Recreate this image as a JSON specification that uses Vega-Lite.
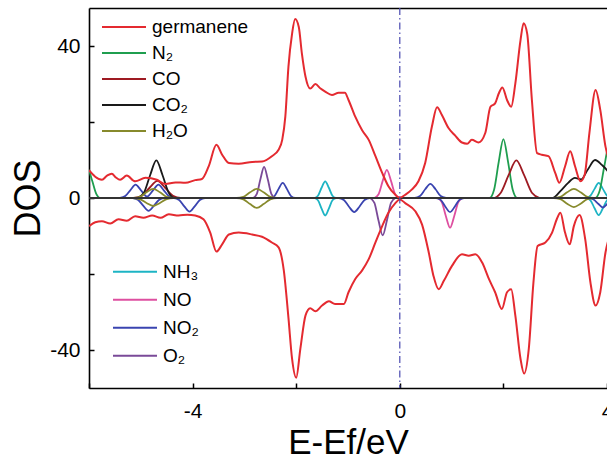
{
  "$schema": "https://vega.github.io/schema/vega-lite/v6.json",
  "width": 518,
  "height": 380,
  "autosize": {"type": "none"},
  "padding": {"left": 89, "top": 8, "right": 0, "bottom": 78},
  "background": "white",
  "config": {
    "view": {"stroke": null},
    "font": "Liberation Sans",
    "axis": {
      "labelFont": "Liberation Sans",
      "titleFont": "Liberation Sans",
      "titleFontWeight": "normal",
      "labelColor": "black",
      "titleColor": "black",
      "domainColor": "black",
      "tickColor": "black",
      "domainWidth": 1.6,
      "tickWidth": 1.5,
      "grid": false
    }
  },
  "resolve": {"axis": {"x": "independent"}},
  "datasets": {
    "ge": [
      {"E":-6.0,"D":7.3,"g":"germanene","s":"u"},{"E":-5.88,"D":5.6,"g":"germanene","s":"u"},{"E":-5.75,"D":4.8,"g":"germanene","s":"u"},{"E":-5.65,"D":5.9,"g":"germanene","s":"u"},{"E":-5.56,"D":6.4,"g":"germanene","s":"u"},{"E":-5.48,"D":5.4,"g":"germanene","s":"u"},{"E":-5.40,"D":4.8,"g":"germanene","s":"u"},{"E":-5.27,"D":5.9,"g":"germanene","s":"u"},{"E":-5.11,"D":4.4,"g":"germanene","s":"u"},{"E":-4.91,"D":5.3,"g":"germanene","s":"u"},{"E":-4.69,"D":4.8,"g":"germanene","s":"u"},{"E":-4.53,"D":3.7,"g":"germanene","s":"u"},{"E":-4.33,"D":4.1,"g":"germanene","s":"u"},{"E":-4.14,"D":4.0,"g":"germanene","s":"u"},{"E":-3.95,"D":4.7,"g":"germanene","s":"u"},{"E":-3.82,"D":5.0,"g":"germanene","s":"u"},{"E":-3.69,"D":8.3,"g":"germanene","s":"u"},{"E":-3.54,"D":14.0,"g":"germanene","s":"u"},{"E":-3.43,"D":11.4,"g":"germanene","s":"u"},{"E":-3.30,"D":9.2,"g":"germanene","s":"u"},{"E":-3.11,"D":9.0,"g":"germanene","s":"u"},{"E":-2.85,"D":9.5,"g":"germanene","s":"u"},{"E":-2.66,"D":9.6,"g":"germanene","s":"u"},{"E":-2.47,"D":11.0,"g":"germanene","s":"u"},{"E":-2.34,"D":12.7,"g":"germanene","s":"u"},{"E":-2.27,"D":15.3,"g":"germanene","s":"u"},{"E":-2.21,"D":21.4,"g":"germanene","s":"u"},{"E":-2.15,"D":34.5,"g":"germanene","s":"u"},{"E":-2.08,"D":43.2,"g":"germanene","s":"u"},{"E":-2.02,"D":47.1,"g":"germanene","s":"u"},{"E":-1.95,"D":45.0,"g":"germanene","s":"u"},{"E":-1.89,"D":38.0,"g":"germanene","s":"u"},{"E":-1.82,"D":31.9,"g":"germanene","s":"u"},{"E":-1.73,"D":28.8,"g":"germanene","s":"u"},{"E":-1.63,"D":30.0,"g":"germanene","s":"u"},{"E":-1.53,"D":28.8,"g":"germanene","s":"u"},{"E":-1.44,"D":28.0,"g":"germanene","s":"u"},{"E":-1.31,"D":27.1,"g":"germanene","s":"u"},{"E":-1.18,"D":27.7,"g":"germanene","s":"u"},{"E":-1.06,"D":27.7,"g":"germanene","s":"u"},{"E":-0.99,"D":25.8,"g":"germanene","s":"u"},{"E":-0.86,"D":21.4,"g":"germanene","s":"u"},{"E":-0.73,"D":17.9,"g":"germanene","s":"u"},{"E":-0.60,"D":15.3,"g":"germanene","s":"u"},{"E":-0.47,"D":11.0,"g":"germanene","s":"u"},{"E":-0.34,"D":6.6,"g":"germanene","s":"u"},{"E":-0.22,"D":3.1,"g":"germanene","s":"u"},{"E":-0.09,"D":0.9,"g":"germanene","s":"u"},{"E":0.0,"D":0.1,"g":"germanene","s":"u"},{"E":0.11,"D":0.9,"g":"germanene","s":"u"},{"E":0.23,"D":2.2,"g":"germanene","s":"u"},{"E":0.36,"D":4.4,"g":"germanene","s":"u"},{"E":0.49,"D":9.2,"g":"germanene","s":"u"},{"E":0.62,"D":18.8,"g":"germanene","s":"u"},{"E":0.72,"D":23.9,"g":"germanene","s":"u"},{"E":0.81,"D":21.9,"g":"germanene","s":"u"},{"E":0.94,"D":18.4,"g":"germanene","s":"u"},{"E":1.07,"D":16.4,"g":"germanene","s":"u"},{"E":1.20,"D":14.6,"g":"germanene","s":"u"},{"E":1.30,"D":14.3,"g":"germanene","s":"u"},{"E":1.39,"D":15.3,"g":"germanene","s":"u"},{"E":1.52,"D":14.6,"g":"germanene","s":"u"},{"E":1.65,"D":17.1,"g":"germanene","s":"u"},{"E":1.75,"D":24.0,"g":"germanene","s":"u"},{"E":1.84,"D":24.9,"g":"germanene","s":"u"},{"E":1.91,"D":27.5,"g":"germanene","s":"u"},{"E":1.98,"D":29.1,"g":"germanene","s":"u"},{"E":2.07,"D":25.8,"g":"germanene","s":"u"},{"E":2.15,"D":24.0,"g":"germanene","s":"u"},{"E":2.23,"D":30.1,"g":"germanene","s":"u"},{"E":2.33,"D":41.5,"g":"germanene","s":"u"},{"E":2.39,"D":46.0,"g":"germanene","s":"u"},{"E":2.46,"D":43.2,"g":"germanene","s":"u"},{"E":2.55,"D":25.8,"g":"germanene","s":"u"},{"E":2.65,"D":11.8,"g":"germanene","s":"u"},{"E":2.74,"D":11.4,"g":"germanene","s":"u"},{"E":2.87,"D":11.0,"g":"germanene","s":"u"},{"E":3.00,"D":6.6,"g":"germanene","s":"u"},{"E":3.08,"D":4.0,"g":"germanene","s":"u"},{"E":3.19,"D":8.3,"g":"germanene","s":"u"},{"E":3.29,"D":12.3,"g":"germanene","s":"u"},{"E":3.38,"D":8.5,"g":"germanene","s":"u"},{"E":3.49,"D":4.4,"g":"germanene","s":"u"},{"E":3.57,"D":6.2,"g":"germanene","s":"u"},{"E":3.66,"D":17.1,"g":"germanene","s":"u"},{"E":3.78,"D":28.4,"g":"germanene","s":"u"},{"E":3.87,"D":23.2,"g":"germanene","s":"u"},{"E":3.97,"D":13.6,"g":"germanene","s":"u"},{"E":4.05,"D":9.5,"g":"germanene","s":"u"},
      {"E":-6.0,"D":-7.4,"g":"germanene","s":"d"},{"E":-5.88,"D":-6.4,"g":"germanene","s":"d"},{"E":-5.75,"D":-6.1,"g":"germanene","s":"d"},{"E":-5.59,"D":-6.7,"g":"germanene","s":"d"},{"E":-5.43,"D":-5.6,"g":"germanene","s":"d"},{"E":-5.27,"D":-6.0,"g":"germanene","s":"d"},{"E":-5.11,"D":-4.8,"g":"germanene","s":"d"},{"E":-4.95,"D":-5.2,"g":"germanene","s":"d"},{"E":-4.78,"D":-4.6,"g":"germanene","s":"d"},{"E":-4.62,"D":-5.2,"g":"germanene","s":"d"},{"E":-4.46,"D":-4.3,"g":"germanene","s":"d"},{"E":-4.27,"D":-4.6,"g":"germanene","s":"d"},{"E":-4.10,"D":-4.4,"g":"germanene","s":"d"},{"E":-3.95,"D":-4.6,"g":"germanene","s":"d"},{"E":-3.79,"D":-5.6,"g":"germanene","s":"d"},{"E":-3.66,"D":-9.1,"g":"germanene","s":"d"},{"E":-3.54,"D":-14.1,"g":"germanene","s":"d"},{"E":-3.43,"D":-12.2,"g":"germanene","s":"d"},{"E":-3.30,"D":-9.6,"g":"germanene","s":"d"},{"E":-3.11,"D":-9.1,"g":"germanene","s":"d"},{"E":-2.85,"D":-9.6,"g":"germanene","s":"d"},{"E":-2.66,"D":-10.2,"g":"germanene","s":"d"},{"E":-2.47,"D":-11.7,"g":"germanene","s":"d"},{"E":-2.34,"D":-13.0,"g":"germanene","s":"d"},{"E":-2.24,"D":-19.0,"g":"germanene","s":"d"},{"E":-2.15,"D":-31.5,"g":"germanene","s":"d"},{"E":-2.08,"D":-42.3,"g":"germanene","s":"d"},{"E":-2.00,"D":-47.3,"g":"germanene","s":"d"},{"E":-1.92,"D":-39.7,"g":"germanene","s":"d"},{"E":-1.82,"D":-30.9,"g":"germanene","s":"d"},{"E":-1.73,"D":-29.0,"g":"germanene","s":"d"},{"E":-1.63,"D":-29.8,"g":"germanene","s":"d"},{"E":-1.50,"D":-28.3,"g":"germanene","s":"d"},{"E":-1.37,"D":-27.2,"g":"germanene","s":"d"},{"E":-1.25,"D":-27.9,"g":"germanene","s":"d"},{"E":-1.08,"D":-27.9,"g":"germanene","s":"d"},{"E":-0.99,"D":-24.8,"g":"germanene","s":"d"},{"E":-0.86,"D":-21.3,"g":"germanene","s":"d"},{"E":-0.73,"D":-19.1,"g":"germanene","s":"d"},{"E":-0.60,"D":-16.1,"g":"germanene","s":"d"},{"E":-0.47,"D":-11.7,"g":"germanene","s":"d"},{"E":-0.34,"D":-7.4,"g":"germanene","s":"d"},{"E":-0.22,"D":-3.9,"g":"germanene","s":"d"},{"E":-0.09,"D":-1.4,"g":"germanene","s":"d"},{"E":0.0,"D":-0.4,"g":"germanene","s":"d"},{"E":0.11,"D":-1.4,"g":"germanene","s":"d"},{"E":0.30,"D":-3.5,"g":"germanene","s":"d"},{"E":0.43,"D":-7.0,"g":"germanene","s":"d"},{"E":0.56,"D":-14.4,"g":"germanene","s":"d"},{"E":0.65,"D":-20.5,"g":"germanene","s":"d"},{"E":0.75,"D":-24.0,"g":"germanene","s":"d"},{"E":0.85,"D":-21.8,"g":"germanene","s":"d"},{"E":1.01,"D":-17.8,"g":"germanene","s":"d"},{"E":1.20,"D":-14.8,"g":"germanene","s":"d"},{"E":1.33,"D":-15.2,"g":"germanene","s":"d"},{"E":1.46,"D":-14.8,"g":"germanene","s":"d"},{"E":1.59,"D":-17.0,"g":"germanene","s":"d"},{"E":1.72,"D":-21.3,"g":"germanene","s":"d"},{"E":1.84,"D":-24.8,"g":"germanene","s":"d"},{"E":1.97,"D":-29.2,"g":"germanene","s":"d"},{"E":2.07,"D":-24.8,"g":"germanene","s":"d"},{"E":2.15,"D":-24.0,"g":"germanene","s":"d"},{"E":2.23,"D":-30.9,"g":"germanene","s":"d"},{"E":2.33,"D":-42.3,"g":"germanene","s":"d"},{"E":2.40,"D":-46.2,"g":"germanene","s":"d"},{"E":2.49,"D":-39.7,"g":"germanene","s":"d"},{"E":2.58,"D":-22.2,"g":"germanene","s":"d"},{"E":2.66,"D":-12.6,"g":"germanene","s":"d"},{"E":2.81,"D":-11.7,"g":"germanene","s":"d"},{"E":2.94,"D":-9.1,"g":"germanene","s":"d"},{"E":3.03,"D":-5.6,"g":"germanene","s":"d"},{"E":3.10,"D":-3.9,"g":"germanene","s":"d"},{"E":3.19,"D":-9.1,"g":"germanene","s":"d"},{"E":3.28,"D":-12.2,"g":"germanene","s":"d"},{"E":3.36,"D":-7.4,"g":"germanene","s":"d"},{"E":3.47,"D":-4.5,"g":"germanene","s":"d"},{"E":3.58,"D":-10.9,"g":"germanene","s":"d"},{"E":3.68,"D":-22.2,"g":"germanene","s":"d"},{"E":3.78,"D":-28.3,"g":"germanene","s":"d"},{"E":3.87,"D":-24.8,"g":"germanene","s":"d"},{"E":3.97,"D":-14.4,"g":"germanene","s":"d"},{"E":4.05,"D":-10.0,"g":"germanene","s":"d"}
    ],
    "ga": [
      {"E":-6.10,"D":6.5,"g":"N₂","s":"u"},{"E":-6.02,"D":7.6,"g":"N₂","s":"u"},{"E":-5.94,"D":4.6,"g":"N₂","s":"u"},{"E":-5.86,"D":1.1,"g":"N₂","s":"u"},{"E":-5.78,"D":0,"g":"N₂","s":"u"},{"E":1.73,"D":0,"g":"N₂","s":"u"},{"E":1.82,"D":2.2,"g":"N₂","s":"u"},{"E":1.91,"D":9.5,"g":"N₂","s":"u"},{"E":2.0,"D":15.5,"g":"N₂","s":"u"},{"E":2.09,"D":9.5,"g":"N₂","s":"u"},{"E":2.18,"D":2.2,"g":"N₂","s":"u"},{"E":2.27,"D":0,"g":"N₂","s":"u"},{"E":3.77,"D":0,"g":"N₂","s":"u"},{"E":3.86,"D":2.0,"g":"N₂","s":"u"},{"E":3.95,"D":8.5,"g":"N₂","s":"u"},{"E":4.04,"D":14.0,"g":"N₂","s":"u"},{"E":4.13,"D":8.5,"g":"N₂","s":"u"},
      {"E":-5.13,"D":0,"g":"CO","s":"u"},{"E":-4.98,"D":0.6,"g":"CO","s":"u"},{"E":-4.83,"D":2.7,"g":"CO","s":"u"},{"E":-4.68,"D":4.5,"g":"CO","s":"u"},{"E":-4.53,"D":2.7,"g":"CO","s":"u"},{"E":-4.38,"D":0.6,"g":"CO","s":"u"},{"E":-4.23,"D":0,"g":"CO","s":"u"},{"E":1.80,"D":0,"g":"CO","s":"u"},{"E":1.95,"D":1.4,"g":"CO","s":"u"},{"E":2.10,"D":6.0,"g":"CO","s":"u"},{"E":2.25,"D":9.9,"g":"CO","s":"u"},{"E":2.40,"D":6.0,"g":"CO","s":"u"},{"E":2.55,"D":1.4,"g":"CO","s":"u"},{"E":2.70,"D":0,"g":"CO","s":"u"},
      {"E":-5.06,"D":0,"g":"CO₂","s":"u"},{"E":-4.94,"D":1.4,"g":"CO₂","s":"u"},{"E":-4.82,"D":6.0,"g":"CO₂","s":"u"},{"E":-4.70,"D":9.9,"g":"CO₂","s":"u"},{"E":-4.58,"D":6.0,"g":"CO₂","s":"u"},{"E":-4.46,"D":1.4,"g":"CO₂","s":"u"},{"E":-4.34,"D":0,"g":"CO₂","s":"u"},{"E":2.95,"D":0,"g":"CO₂","s":"u"},{"E":3.10,"D":1.8,"g":"CO₂","s":"u"},{"E":3.25,"D":4.0,"g":"CO₂","s":"u"},{"E":3.38,"D":5.3,"g":"CO₂","s":"u"},{"E":3.50,"D":4.9,"g":"CO₂","s":"u"},{"E":3.63,"D":7.5,"g":"CO₂","s":"u"},{"E":3.77,"D":10.0,"g":"CO₂","s":"u"},{"E":3.90,"D":8.7,"g":"CO₂","s":"u"},{"E":4.00,"D":7.3,"g":"CO₂","s":"u"},{"E":4.15,"D":3.5,"g":"CO₂","s":"u"},
      {"E":-5.15,"D":0,"g":"H₂O","s":"u"},{"E":-5.02,"D":0.3,"g":"H₂O","s":"u"},{"E":-4.89,"D":1.5,"g":"H₂O","s":"u"},{"E":-4.76,"D":2.4,"g":"H₂O","s":"u"},{"E":-4.63,"D":1.5,"g":"H₂O","s":"u"},{"E":-4.50,"D":0.3,"g":"H₂O","s":"u"},{"E":-4.37,"D":0,"g":"H₂O","s":"u"},{"E":-3.15,"D":0,"g":"H₂O","s":"u"},{"E":-3.02,"D":0.3,"g":"H₂O","s":"u"},{"E":-2.89,"D":1.5,"g":"H₂O","s":"u"},{"E":-2.76,"D":2.4,"g":"H₂O","s":"u"},{"E":-2.63,"D":1.5,"g":"H₂O","s":"u"},{"E":-2.50,"D":0.3,"g":"H₂O","s":"u"},{"E":-2.37,"D":0,"g":"H₂O","s":"u"},{"E":2.97,"D":0,"g":"H₂O","s":"u"},{"E":3.10,"D":0.3,"g":"H₂O","s":"u"},{"E":3.23,"D":1.5,"g":"H₂O","s":"u"},{"E":3.36,"D":2.4,"g":"H₂O","s":"u"},{"E":3.49,"D":1.5,"g":"H₂O","s":"u"},{"E":3.62,"D":0.3,"g":"H₂O","s":"u"},{"E":3.75,"D":0,"g":"H₂O","s":"u"},
      {"E":-5.15,"D":0,"g":"H₂O","s":"d"},{"E":-5.02,"D":-0.3,"g":"H₂O","s":"d"},{"E":-4.89,"D":-1.3,"g":"H₂O","s":"d"},{"E":-4.76,"D":-2.1,"g":"H₂O","s":"d"},{"E":-4.63,"D":-1.3,"g":"H₂O","s":"d"},{"E":-4.50,"D":-0.3,"g":"H₂O","s":"d"},{"E":-4.37,"D":0,"g":"H₂O","s":"d"},{"E":-3.15,"D":0,"g":"H₂O","s":"d"},{"E":-3.02,"D":-0.35,"g":"H₂O","s":"d"},{"E":-2.89,"D":-1.6,"g":"H₂O","s":"d"},{"E":-2.76,"D":-2.6,"g":"H₂O","s":"d"},{"E":-2.63,"D":-1.6,"g":"H₂O","s":"d"},{"E":-2.50,"D":-0.35,"g":"H₂O","s":"d"},{"E":-2.37,"D":0,"g":"H₂O","s":"d"},{"E":2.97,"D":0,"g":"H₂O","s":"d"},{"E":3.10,"D":-0.3,"g":"H₂O","s":"d"},{"E":3.23,"D":-1.5,"g":"H₂O","s":"d"},{"E":3.36,"D":-2.4,"g":"H₂O","s":"d"},{"E":3.49,"D":-1.5,"g":"H₂O","s":"d"},{"E":3.62,"D":-0.3,"g":"H₂O","s":"d"},{"E":3.75,"D":0,"g":"H₂O","s":"d"}
    ],
    "gb": [
      {"E":-1.65,"D":0,"g":"NH₃","s":"u"},{"E":-1.58,"D":0.6,"g":"NH₃","s":"u"},{"E":-1.51,"D":2.7,"g":"NH₃","s":"u"},{"E":-1.44,"D":4.4,"g":"NH₃","s":"u"},{"E":-1.37,"D":2.7,"g":"NH₃","s":"u"},{"E":-1.30,"D":0.6,"g":"NH₃","s":"u"},{"E":-1.23,"D":0,"g":"NH₃","s":"u"},{"E":3.60,"D":0,"g":"NH₃","s":"u"},{"E":3.68,"D":0.6,"g":"NH₃","s":"u"},{"E":3.76,"D":2.4,"g":"NH₃","s":"u"},{"E":3.84,"D":4.0,"g":"NH₃","s":"u"},{"E":3.92,"D":2.4,"g":"NH₃","s":"u"},{"E":4.0,"D":0.6,"g":"NH₃","s":"u"},{"E":4.08,"D":0,"g":"NH₃","s":"u"},
      {"E":-1.65,"D":0,"g":"NH₃","s":"d"},{"E":-1.58,"D":-0.6,"g":"NH₃","s":"d"},{"E":-1.51,"D":-2.8,"g":"NH₃","s":"d"},{"E":-1.44,"D":-4.6,"g":"NH₃","s":"d"},{"E":-1.37,"D":-2.8,"g":"NH₃","s":"d"},{"E":-1.30,"D":-0.6,"g":"NH₃","s":"d"},{"E":-1.23,"D":0,"g":"NH₃","s":"d"},{"E":3.60,"D":0,"g":"NH₃","s":"d"},{"E":3.68,"D":-0.6,"g":"NH₃","s":"d"},{"E":3.76,"D":-2.7,"g":"NH₃","s":"d"},{"E":3.84,"D":-4.5,"g":"NH₃","s":"d"},{"E":3.92,"D":-2.7,"g":"NH₃","s":"d"},{"E":4.0,"D":-0.6,"g":"NH₃","s":"d"},{"E":4.08,"D":0,"g":"NH₃","s":"d"},
      {"E":-0.49,"D":0,"g":"NO","s":"u"},{"E":-0.41,"D":1.0,"g":"NO","s":"u"},{"E":-0.33,"D":4.5,"g":"NO","s":"u"},{"E":-0.25,"D":7.4,"g":"NO","s":"u"},{"E":-0.17,"D":4.5,"g":"NO","s":"u"},{"E":-0.09,"D":1.0,"g":"NO","s":"u"},{"E":-0.01,"D":0,"g":"NO","s":"u"},
      {"E":0.73,"D":0,"g":"NO","s":"d"},{"E":0.81,"D":-1.1,"g":"NO","s":"d"},{"E":0.89,"D":-4.8,"g":"NO","s":"d"},{"E":0.97,"D":-7.8,"g":"NO","s":"d"},{"E":1.05,"D":-4.8,"g":"NO","s":"d"},{"E":1.13,"D":-1.1,"g":"NO","s":"d"},{"E":1.21,"D":0,"g":"NO","s":"d"},
      {"E":-5.40,"D":0,"g":"NO₂","s":"u"},{"E":-5.30,"D":0.5,"g":"NO₂","s":"u"},{"E":-5.20,"D":2.1,"g":"NO₂","s":"u"},{"E":-5.10,"D":3.5,"g":"NO₂","s":"u"},{"E":-5.00,"D":2.1,"g":"NO₂","s":"u"},{"E":-4.88,"D":0.4,"g":"NO₂","s":"u"},{"E":-4.76,"D":2.1,"g":"NO₂","s":"u"},{"E":-4.66,"D":3.5,"g":"NO₂","s":"u"},{"E":-4.56,"D":2.1,"g":"NO₂","s":"u"},{"E":-4.46,"D":0.5,"g":"NO₂","s":"u"},{"E":-4.36,"D":0,"g":"NO₂","s":"u"},{"E":-2.50,"D":0,"g":"NO₂","s":"u"},{"E":-2.42,"D":0.5,"g":"NO₂","s":"u"},{"E":-2.34,"D":2.4,"g":"NO₂","s":"u"},{"E":-2.26,"D":4.0,"g":"NO₂","s":"u"},{"E":-2.18,"D":2.4,"g":"NO₂","s":"u"},{"E":-2.10,"D":0.5,"g":"NO₂","s":"u"},{"E":-2.02,"D":0,"g":"NO₂","s":"u"},{"E":0.29,"D":0,"g":"NO₂","s":"u"},{"E":0.39,"D":0.5,"g":"NO₂","s":"u"},{"E":0.49,"D":2.3,"g":"NO₂","s":"u"},{"E":0.59,"D":3.7,"g":"NO₂","s":"u"},{"E":0.69,"D":2.3,"g":"NO₂","s":"u"},{"E":0.79,"D":0.5,"g":"NO₂","s":"u"},{"E":0.89,"D":0,"g":"NO₂","s":"u"},
      {"E":-5.15,"D":0,"g":"NO₂","s":"d"},{"E":-5.05,"D":-0.5,"g":"NO₂","s":"d"},{"E":-4.95,"D":-2.1,"g":"NO₂","s":"d"},{"E":-4.85,"D":-3.4,"g":"NO₂","s":"d"},{"E":-4.75,"D":-2.1,"g":"NO₂","s":"d"},{"E":-4.65,"D":-0.5,"g":"NO₂","s":"d"},{"E":-4.55,"D":0,"g":"NO₂","s":"d"},{"E":-4.36,"D":0,"g":"NO₂","s":"d"},{"E":-4.26,"D":-0.5,"g":"NO₂","s":"d"},{"E":-4.16,"D":-2.2,"g":"NO₂","s":"d"},{"E":-4.06,"D":-3.6,"g":"NO₂","s":"d"},{"E":-3.96,"D":-2.2,"g":"NO₂","s":"d"},{"E":-3.86,"D":-0.5,"g":"NO₂","s":"d"},{"E":-3.76,"D":0,"g":"NO₂","s":"d"},{"E":-1.18,"D":0,"g":"NO₂","s":"d"},{"E":-1.08,"D":-0.5,"g":"NO₂","s":"d"},{"E":-0.98,"D":-2.3,"g":"NO₂","s":"d"},{"E":-0.88,"D":-3.7,"g":"NO₂","s":"d"},{"E":-0.78,"D":-2.3,"g":"NO₂","s":"d"},{"E":-0.68,"D":-0.5,"g":"NO₂","s":"d"},{"E":-0.58,"D":0,"g":"NO₂","s":"d"},{"E":0.70,"D":0,"g":"NO₂","s":"d"},{"E":0.79,"D":-0.5,"g":"NO₂","s":"d"},{"E":0.88,"D":-2.3,"g":"NO₂","s":"d"},{"E":0.97,"D":-3.7,"g":"NO₂","s":"d"},{"E":1.06,"D":-2.3,"g":"NO₂","s":"d"},{"E":1.15,"D":-0.5,"g":"NO₂","s":"d"},{"E":1.24,"D":0,"g":"NO₂","s":"d"},{"E":3.65,"D":0,"g":"NO₂","s":"d"},{"E":3.74,"D":-0.4,"g":"NO₂","s":"d"},{"E":3.83,"D":-1.5,"g":"NO₂","s":"d"},{"E":3.92,"D":-2.5,"g":"NO₂","s":"d"},{"E":4.01,"D":-1.5,"g":"NO₂","s":"d"},{"E":4.10,"D":-0.4,"g":"NO₂","s":"d"},
      {"E":-2.83,"D":0,"g":"O₂","s":"u"},{"E":-2.76,"D":1.1,"g":"O₂","s":"u"},{"E":-2.69,"D":5.0,"g":"O₂","s":"u"},{"E":-2.62,"D":8.2,"g":"O₂","s":"u"},{"E":-2.55,"D":5.0,"g":"O₂","s":"u"},{"E":-2.48,"D":1.1,"g":"O₂","s":"u"},{"E":-2.41,"D":0,"g":"O₂","s":"u"},
      {"E":-0.57,"D":0,"g":"O₂","s":"d"},{"E":-0.49,"D":-1.3,"g":"O₂","s":"d"},{"E":-0.41,"D":-6.0,"g":"O₂","s":"d"},{"E":-0.33,"D":-9.8,"g":"O₂","s":"d"},{"E":-0.25,"D":-6.0,"g":"O₂","s":"d"},{"E":-0.17,"D":-1.3,"g":"O₂","s":"d"},{"E":-0.09,"D":0,"g":"O₂","s":"d"}
    ]
  },
  "layer": [
    {
      "data": {"name": "gb"},
      "mark": {"type": "line", "interpolate": "monotone", "strokeWidth": 1.8, "clip": true},
      "encoding": {
        "x": {
          "field": "E", "type": "quantitative",
          "scale": {"domain": [-6, 4], "nice": false},
          "axis": {
            "values": [-6, -4, -2, 0, 2, 4],
            "labelExpr": "datum.value % 4 == 0 ? '' + datum.value : ''",
            "tickSize": -5,
            "labelPadding": 17,
            "labelFontSize": 21,
            "labelFlush": false,
            "title": "E-Ef/eV",
            "titleFontSize": 35,
            "titlePadding": 4
          }
        },
        "y": {
          "field": "D", "type": "quantitative",
          "scale": {"domain": [-50, 50], "nice": false},
          "title": "DOS",
          "axis": {
            "values": [-40, -20, 0, 20, 40],
            "labelExpr": "datum.value % 40 == 0 ? '' + datum.value : ''",
            "tickSize": -5,
            "labelPadding": 14,
            "labelFontSize": 21,
            "titleFontSize": 36,
            "titlePadding": 2
          }
        },
        "stroke": {
          "field": "g", "type": "nominal",
          "scale": {"domain": ["NH₃", "NO", "NO₂", "O₂"], "range": ["#1db4c4", "#de4fa0", "#3a44b0", "#7a4a98"]},
          "legend": {
            "orient": "none", "legendX": 23, "legendY": 250, "title": null,
            "symbolType": "stroke", "symbolSize": 1936, "symbolStrokeWidth": 2,
            "labelFontSize": 19, "labelFont": "Liberation Sans", "labelColor": "black",
            "clipHeight": 27.5, "rowPadding": 0, "padding": 0, "labelOffset": 5
          }
        },
        "detail": {"field": "s"}
      }
    },
    {
      "data": {"name": "ga"},
      "mark": {"type": "line", "interpolate": "monotone", "strokeWidth": 1.8, "clip": true},
      "encoding": {
        "x": {"field": "E", "type": "quantitative", "scale": {"domain": [-6, 4], "nice": false}, "axis": null},
        "y": {"field": "D", "type": "quantitative", "title": "DOS"},
        "color": {
          "field": "g", "type": "nominal",
          "scale": {"domain": ["germanene", "N₂", "CO", "CO₂", "H₂O"], "range": ["#e42a30", "#1f9e4f", "#9e1a22", "#1a1a1a", "#878a2c"]},
          "legend": {
            "orient": "none", "legendX": 12, "legendY": 6, "title": null,
            "symbolType": "stroke", "symbolSize": 1936, "symbolStrokeWidth": 2,
            "labelFontSize": 19, "labelFont": "Liberation Sans", "labelColor": "black",
            "clipHeight": 26, "rowPadding": 0, "padding": 0, "labelOffset": 5
          }
        },
        "detail": {"field": "s"}
      }
    },
    {
      "data": {"values": [{"z": 0}]},
      "mark": {"type": "rule", "color": "#333333", "strokeWidth": 2},
      "encoding": {"y": {"field": "z", "type": "quantitative", "title": "DOS"}}
    },
    {
      "data": {"name": "ge"},
      "mark": {"type": "line", "interpolate": "monotone", "strokeWidth": 2, "clip": true},
      "encoding": {
        "x": {"field": "E", "type": "quantitative", "scale": {"domain": [-6, 4], "nice": false}, "axis": null},
        "y": {"field": "D", "type": "quantitative", "title": "DOS"},
        "color": {
          "field": "g", "type": "nominal",
          "scale": {"domain": ["germanene", "N₂", "CO", "CO₂", "H₂O"], "range": ["#e42a30", "#1f9e4f", "#9e1a22", "#1a1a1a", "#878a2c"]}
        },
        "detail": {"field": "s"}
      }
    },
    {
      "data": {"values": [{"E": 0}]},
      "mark": {"type": "rule", "color": "#4a4ab0", "strokeWidth": 1.2, "strokeDash": [7, 3, 1.5, 3]},
      "encoding": {
        "x": {
          "field": "E", "type": "quantitative",
          "scale": {"domain": [-6, 4], "nice": false},
          "axis": {"orient": "top", "labels": false, "ticks": false, "title": null, "domain": true}
        }
      }
    }
  ]
}
